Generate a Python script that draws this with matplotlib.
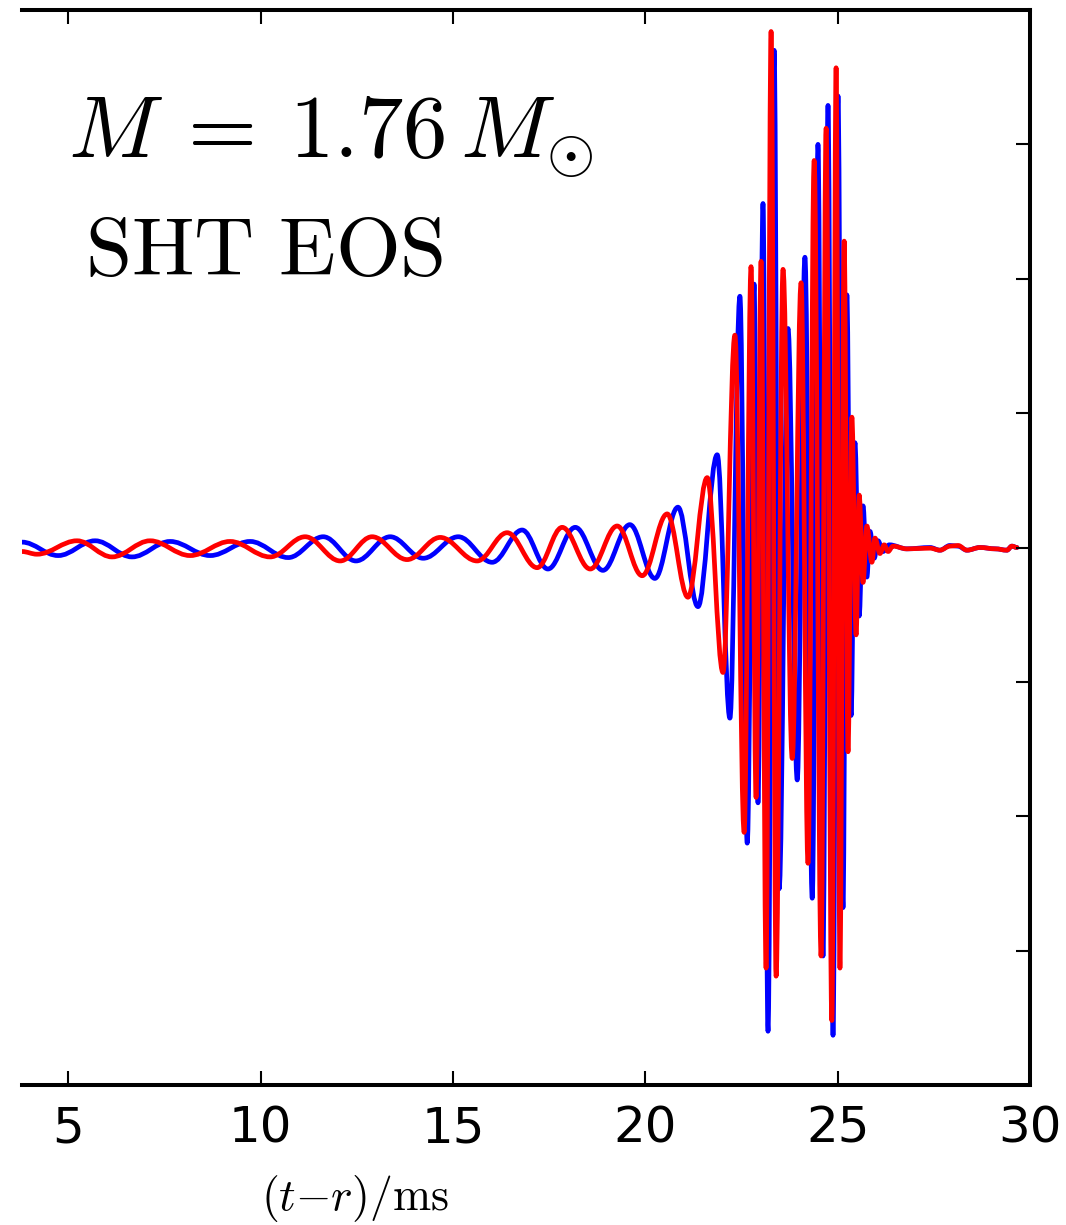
import numpy as np
import matplotlib
matplotlib.use("Agg")
import matplotlib.pyplot as plt
from matplotlib.path import Path
from matplotlib.patches import PathPatch

plt.rcParams['mathtext.fontset'] = 'cm'

# extrema of the two waveforms (time in ms, strain in tick units)
t_blue = [3.80, 4.74, 5.70, 6.66, 7.65, 8.69, 9.73, 10.72, 11.63, 12.48,
          13.37, 14.23, 15.14, 16.02, 16.80, 17.47, 18.18, 18.90, 19.60, 20.25,
          20.85, 21.37, 21.87, 22.20, 22.46, 22.65, 22.83, 22.93, 23.06, 23.19,
          23.35, 23.48, 23.71, 23.95, 24.15, 24.34, 24.49, 24.62, 24.75, 24.88,
          25.01, 25.14, 25.24, 25.35, 25.45, 25.56, 25.66, 25.76, 25.84, 25.95,
          26.05, 26.18, 26.34, 26.80, 27.40, 27.66, 27.92, 28.13, 28.36, 28.70,
          29.10, 29.40, 29.53, 29.66]
h_blue = [0.04, -0.06, 0.05, -0.07, 0.045, -0.06, 0.045, -0.075, 0.08, -0.10,
          0.08, -0.08, 0.08, -0.11, 0.13, -0.16, 0.15, -0.17, 0.17, -0.23,
          0.30, -0.44, 0.69, -1.27, 1.87, -2.20, 1.96, -1.90, 2.56, -3.60,
          3.70, -2.54, 1.63, -1.73, 2.16, -2.61, 3.00, -3.04, 3.29, -3.63,
          3.36, -2.68, 1.88, -1.25, 0.78, -0.51, 0.31, -0.22, 0.12, -0.08,
          0.05, -0.03, 0.02, -0.01, 0.0, -0.02, 0.015, 0.01, -0.02, 0.0,
          -0.01, -0.02, 0.01, 0.0]

t_red = [3.80, 4.19, 5.23, 6.14, 7.13, 8.17, 9.21, 10.25, 11.16, 12.07,
         12.90, 13.81, 14.67, 15.63, 16.41, 17.19, 17.84, 18.57, 19.27, 19.92,
         20.57, 21.11, 21.61, 22.02, 22.33, 22.57, 22.75, 22.88, 23.01, 23.14,
         23.27, 23.40, 23.58, 23.82, 24.05, 24.23, 24.39, 24.57, 24.70, 24.85,
         24.96, 25.06, 25.17, 25.27, 25.37, 25.48, 25.56, 25.66, 25.76, 25.89,
         25.97, 26.10, 26.21, 26.31, 26.44, 26.80, 27.40, 27.66, 27.92, 28.13,
         28.36, 28.70, 29.10, 29.40, 29.53, 29.66]
h_red = [-0.03, -0.05, 0.05, -0.07, 0.05, -0.06, 0.045, -0.07, 0.08, -0.10,
         0.08, -0.09, 0.075, -0.10, 0.11, -0.15, 0.15, -0.16, 0.16, -0.21,
         0.25, -0.37, 0.52, -0.93, 1.58, -2.12, 2.09, -1.86, 2.13, -3.13,
         3.84, -3.19, 2.07, -1.57, 1.97, -2.35, 2.88, -3.04, 3.12, -3.52,
         3.57, -3.13, 2.28, -1.52, 0.97, -0.65, 0.39, -0.26, 0.16, -0.11,
         0.07, -0.045, 0.02, -0.03, 0.01, -0.01, -0.005, -0.02, 0.01, 0.015,
         -0.02, 0.0, -0.01, -0.02, 0.01, 0.0]

x_ticks = [5, 10, 15, 20, 25, 30]
y_ticks = [-3, -2, -1, 0, 1, 2, 3]


def wave(ax, t, h, color):
    # smooth bezier through the extrema, flat tangent at each one
    verts = [(t[0], h[0])]
    codes = [Path.MOVETO]
    for i in range(len(t) - 1):
        d = 0.364 * (t[i + 1] - t[i])
        verts += [(t[i] + d, h[i]), (t[i + 1] - d, h[i + 1]), (t[i + 1], h[i + 1])]
        codes += [Path.CURVE4] * 3
    ax.add_patch(PathPatch(Path(verts, codes), fill=False, edgecolor=color,
                           lw=3.4, joinstyle='round', capstyle='round'))


fig = plt.figure(figsize=(10.66, 12.25), dpi=100)
ax = fig.add_axes([22/1066, 1 - 1085/1225, 1008/1066, 1075/1225])

wave(ax, t_blue, h_blue, '#0000ff')
wave(ax, t_red, h_red, '#ff0000')

ax.set_xlim(3.8, 30)
ax.set_ylim(-4, 4)
ax.set_xticks(x_ticks)
ax.set_yticks(y_ticks)
ax.set_yticklabels([])
ax.spines['left'].set_visible(False)
for s in ['top', 'right', 'bottom']:
    ax.spines[s].set_linewidth(2.9)
ax.tick_params(direction='in', length=10, width=1.5, top=True, right=True,
               left=False, labelsize=36, pad=14)

ax.text(0.0456, 0.862, r'$M\:=\:1.76\,M_{\odot}$', transform=ax.transAxes,
        fontsize=64, va='baseline', ha='left')
ax.text(0.0625, 0.7535, r'$\mathrm{SHT\ EOS}$', transform=ax.transAxes,
        fontsize=60, va='baseline', ha='left')

fig.text(355/1066, 1 - 1198/1225, r'$(t{-}r)/\mathrm{ms}$', fontsize=33,
         ha='center', va='center')

fig.savefig('out.png', dpi=100)
